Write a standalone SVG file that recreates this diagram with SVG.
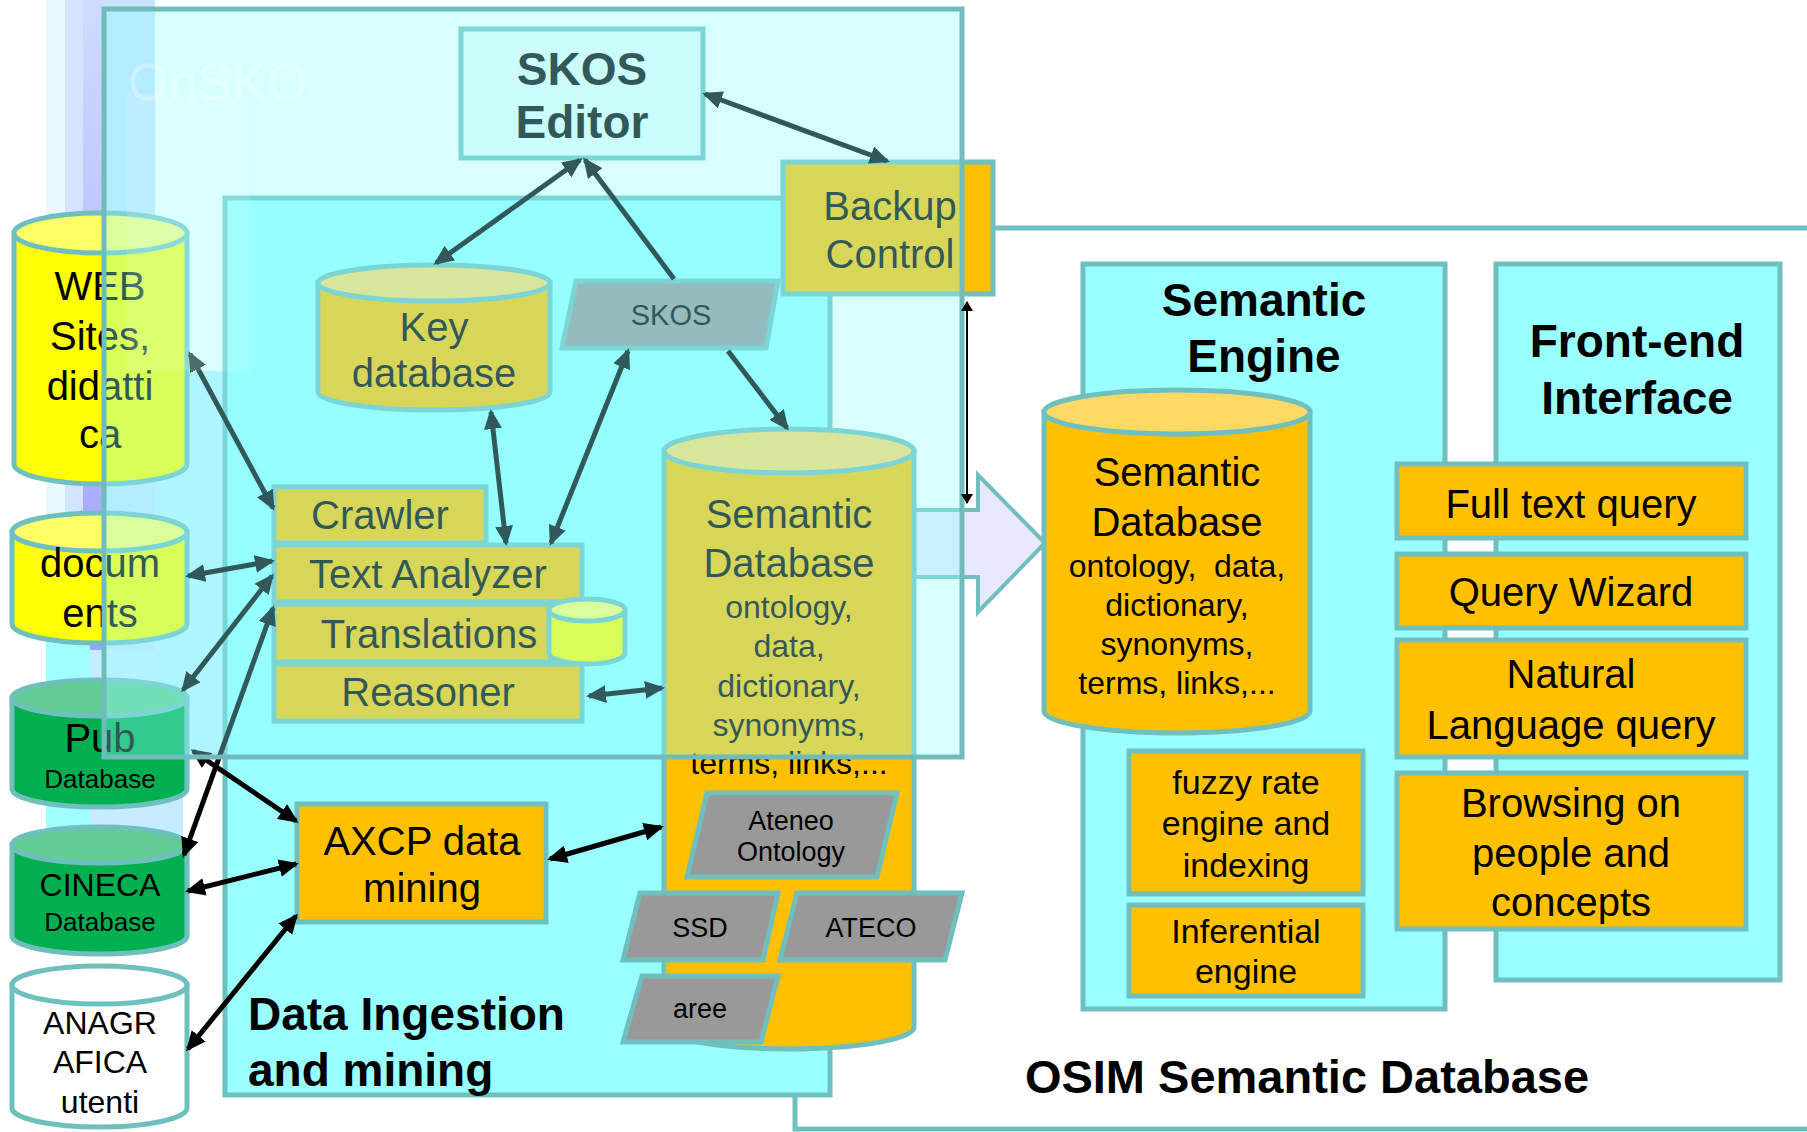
<svg xmlns="http://www.w3.org/2000/svg" width="1807" height="1132" viewBox="0 0 1807 1132">
<defs>
<style>
.t{font-family:"Liberation Sans",Arial,sans-serif;text-anchor:middle;fill:#000}
.b{font-weight:bold}
.bx{stroke:#70bfbf;stroke-width:5}
.cn{stroke:#000;stroke-width:5;fill:none;marker-start:url(#ah);marker-end:url(#ah)}
.cn1{stroke:#000;stroke-width:5;fill:none;marker-end:url(#ah)}
.f40{font-size:40px}
.f32{font-size:32px}
.f27{font-size:27px}
.f46{font-size:46px}
</style>
<marker id="ah" viewBox="0 0 20 18" refX="17" refY="9" markerWidth="20" markerHeight="18" markerUnits="userSpaceOnUse" orient="auto-start-reverse"><path d="M0,0 L20,9 L0,18 z" fill="#000"/></marker>
<marker id="ahs" viewBox="0 0 10 12" refX="9" refY="6" markerWidth="10" markerHeight="12" markerUnits="userSpaceOnUse" orient="auto-start-reverse"><path d="M0,0 L10,6 L0,12 z" fill="#000"/></marker>
<linearGradient id="lav" x1="0" y1="0" x2="0" y2="1"><stop offset="0" stop-color="#cddcff"/><stop offset="1" stop-color="#a0a0ff"/></linearGradient>
<clipPath id="clipOn"><rect x="104" y="20" width="208" height="100"/></clipPath>
</defs>
<rect width="1807" height="1132" fill="#fff"/>
<g id="background">
<rect x="46" y="0" width="19" height="560" fill="#e8f8ff"/>
<rect x="65" y="0" width="18" height="650" fill="#d2e4ff"/>
<rect x="83" y="0" width="21" height="650" fill="url(#lav)"/>
<rect x="104" y="0" width="51" height="650" fill="#c8e2ff"/>
<rect x="46" y="560" width="44" height="330" fill="#a0ffff"/>
<rect x="90" y="650" width="93" height="220" fill="#c8ecff"/>
<rect x="155" y="371" width="70" height="386" fill="#c0f0ff"/>
</g>
<g id="osim">
<rect x="795" y="228" width="1030" height="901" fill="#fff" class="bx" stroke-width="4"/>
</g>
<g id="bigarrow">
<polygon points="914,510 978,510 978,475 1045,543 978,612 978,577 914,577" fill="#e8e8ff" stroke="#70bfbf" stroke-width="4"/>
</g>
<g id="semantic-engine">
<rect x="1083" y="264" width="362" height="745" fill="#99ffff" class="bx"/>
<text class="t b f46" x="1264" y="316">Semantic</text>
<text class="t b f46" x="1264" y="372">Engine</text>
</g>
<g id="front-end">
<rect x="1496" y="264" width="284" height="716" fill="#99ffff" class="bx"/>
<text class="t b f46" x="1637" y="357">Front-end</text>
<text class="t b f46" x="1637" y="414">Interface</text>
</g>
<g id="osim-semdb">
<path d="M1044,412 L1044,711 A133,22 0 0 0 1310,711 L1310,412 Z" fill="#ffc000" class="bx"/>
<ellipse cx="1177" cy="412" rx="133" ry="22" fill="#ffd966" class="bx"/>
<text class="t f40" x="1177" y="486">Semantic</text>
<text class="t f40" x="1177" y="536">Database</text>
<text class="t f32" x="1177" y="577" xml:space="preserve">ontology,  data,</text>
<text class="t f32" x="1177" y="616">dictionary,</text>
<text class="t f32" x="1177" y="655">synonyms,</text>
<text class="t f32" x="1177" y="694">terms, links,...</text>
</g>
<g id="fuzzy">
<rect x="1129" y="751" width="234" height="143" fill="#ffc000" class="bx"/>
<text class="t" font-size="34" x="1246" y="794">fuzzy rate</text>
<text class="t" font-size="34" x="1246" y="835">engine and</text>
<text class="t" font-size="34" x="1246" y="877">indexing</text>
</g>
<g id="inferential">
<rect x="1129" y="905" width="234" height="91" fill="#ffc000" class="bx"/>
<text class="t" font-size="34" x="1246" y="943">Inferential</text>
<text class="t" font-size="34" x="1246" y="983">engine</text>
</g>
<g id="fulltext">
<rect x="1397" y="464" width="349" height="74" fill="#ffc000" class="bx"/>
<text class="t f40" x="1571" y="518">Full text query</text>
</g>
<g id="wizard">
<rect x="1397" y="554" width="349" height="74" fill="#ffc000" class="bx"/>
<text class="t f40" x="1571" y="606">Query Wizard</text>
</g>
<g id="natural">
<rect x="1397" y="640" width="349" height="117" fill="#ffc000" class="bx"/>
<text class="t f40" x="1571" y="688">Natural</text>
<text class="t f40" x="1571" y="739">Language query</text>
</g>
<g id="browsing">
<rect x="1397" y="773" width="349" height="156" fill="#ffc000" class="bx"/>
<text class="t f40" x="1571" y="817">Browsing on</text>
<text class="t f40" x="1571" y="867">people and</text>
<text class="t f40" x="1571" y="916">concepts</text>
</g>
<g id="osim-title">
<text class="t b" font-size="47" x="1307" y="1093">OSIM Semantic Database</text>
</g>
<g id="ingestion">
<rect x="225" y="198" width="605" height="897" fill="#99ffff" class="bx"/>
<text class="t b f46" x="248" y="1030" style="text-anchor:start">Data Ingestion</text>
<text class="t b f46" x="248" y="1086" style="text-anchor:start">and mining</text>
</g>
<g id="keydb">
<path d="M318,283 L318,392 A116,18 0 0 0 550,392 L550,283 Z" fill="#ffc000" class="bx"/>
<ellipse cx="434" cy="283" rx="116" ry="18" fill="#ffd966" class="bx"/>
<text class="t f40" x="434" y="341">Key</text>
<text class="t f40" x="434" y="387">database</text>
</g>
<g id="skos">
<polygon points="576,281 778,281 766,348 562,348" fill="#999" class="bx"/>
<text class="t" font-size="29" x="671" y="325">SKOS</text>
</g>
<g id="crawler">
<rect x="274" y="487" width="212" height="56" fill="#ffc000" class="bx"/>
<text class="t f40" x="380" y="529">Crawler</text>
</g>
<g id="textanalyzer">
<rect x="274" y="545" width="308" height="57" fill="#ffc000" class="bx"/>
<text class="t f40" x="428" y="588">Text Analyzer</text>
</g>
<g id="translations">
<rect x="274" y="604" width="277" height="58" fill="#ffc000" class="bx"/>
<text class="t f40" x="429" y="648">Translations</text>
</g>
<g id="smallcyl">
<path d="M549,610 L549,653 A38,11 0 0 0 625,653 L625,610 Z" fill="#ffff00" class="bx"/>
<ellipse cx="587" cy="610" rx="38" ry="11" fill="#ffff66" class="bx"/>
</g>
<g id="reasoner">
<rect x="274" y="664" width="308" height="57" fill="#ffc000" class="bx"/>
<text class="t f40" x="428" y="706">Reasoner</text>
</g>
<g id="ing-semdb">
<path d="M664,451 L664,1027 A125,22 0 0 0 914,1027 L914,451 Z" fill="#ffc000" class="bx"/>
<ellipse cx="789" cy="451" rx="125" ry="22" fill="#ffd966" class="bx"/>
<text class="t f40" x="789" y="528">Semantic</text>
<text class="t f40" x="789" y="577">Database</text>
<text class="t f32" x="789" y="618">ontology,</text>
<text class="t f32" x="789" y="657">data,</text>
<text class="t f32" x="789" y="697">dictionary,</text>
<text class="t f32" x="789" y="736">synonyms,</text>
<text class="t f32" x="789" y="774">terms, links,...</text>
</g>
<g id="ateneo">
<polygon points="707,793 897,793 877,877 687,877" fill="#999" class="bx"/>
<text class="t f27" x="791" y="830">Ateneo</text>
<text class="t f27" x="791" y="861">Ontology</text>
</g>
<g id="ssd">
<polygon points="640,893 778,893 763,960 623,960" fill="#999" class="bx"/>
<text class="t f27" x="700" y="937">SSD</text>
</g>
<g id="ateco">
<polygon points="797,893 962,893 945,960 780,960" fill="#999" class="bx"/>
<text class="t f27" x="871" y="937">ATECO</text>
</g>
<g id="aree">
<polygon points="642,976 778,976 761,1042 623,1042" fill="#999" class="bx"/>
<text class="t f27" x="700" y="1018">aree</text>
</g>
<g id="axcp">
<rect x="297" y="804" width="249" height="118" fill="#ffc000" class="bx"/>
<text class="t f40" x="422" y="855">AXCP data</text>
<text class="t f40" x="422" y="902">mining</text>
</g>
<g id="skos-editor">
<rect x="461" y="29" width="242" height="129" fill="#ecfcfc" class="bx"/>
<text class="t b f46" x="582" y="85">SKOS</text>
<text class="t b f46" x="582" y="138">Editor</text>
</g>
<g id="backup">
<rect x="783" y="162" width="210" height="132" fill="#ffc000" class="bx"/>
<text class="t f40" x="890" y="220">Backup</text>
<text class="t f40" x="890" y="268">Control</text>
</g>
<g id="web">
<path d="M14,233 L14,464 A86.5,20 0 0 0 187,464 L187,233 Z" fill="#ffff00" class="bx"/>
<ellipse cx="100.5" cy="233" rx="86.5" ry="20" fill="#ffff66" class="bx"/>
<text class="t f40" x="100" y="300">WEB</text>
<text class="t f40" x="100" y="350">Sites,</text>
<text class="t f40" x="100" y="400">didatti</text>
<text class="t f40" x="100" y="448">ca</text>
</g>
<g id="documents">
<path d="M12,532 L12,624 A87.5,19 0 0 0 187,624 L187,532 Z" fill="#ffff00" class="bx"/>
<ellipse cx="99.5" cy="532" rx="87.5" ry="19" fill="#ffff66" class="bx"/>
<text class="t f40" x="100" y="577">docum</text>
<text class="t f40" x="100" y="627">ents</text>
</g>
<g id="pub">
<path d="M12,698 L12,789 A87.5,18 0 0 0 187,789 L187,698 Z" fill="#00b050" class="bx"/>
<ellipse cx="99.5" cy="698" rx="87.5" ry="18" fill="#62cc92" class="bx"/>
<text class="t f40" x="100" y="752">Pub</text>
<text class="t" font-size="26" x="100" y="788">Database</text>
</g>
<g id="cineca">
<path d="M12,845 L12,936 A87.5,18 0 0 0 187,936 L187,845 Z" fill="#00b050" class="bx"/>
<ellipse cx="99.5" cy="845" rx="87.5" ry="18" fill="#62cc92" class="bx"/>
<text class="t f32" x="100" y="896">CINECA</text>
<text class="t" font-size="26" x="100" y="931">Database</text>
</g>
<g id="anagrafica">
<path d="M12,985 L12,1108 A87.5,19 0 0 0 187,1108 L187,985 Z" fill="#fff" class="bx"/>
<ellipse cx="99.5" cy="985" rx="87.5" ry="19" fill="#fff" class="bx"/>
<text class="t f32" x="100" y="1034">ANAGR</text>
<text class="t f32" x="100" y="1073">AFICA</text>
<text class="t f32" x="100" y="1113">utenti</text>
</g>
<g id="connectors">
<line class="cn" x1="705" y1="94" x2="887" y2="161"/>
<line class="cn" x1="580" y1="160" x2="436" y2="263"/>
<line class="cn1" x1="674" y1="279" x2="585" y2="160"/>
<line class="cn1" x1="728" y1="351" x2="787" y2="428"/>
<line class="cn" x1="506" y1="543" x2="491" y2="412"/>
<line class="cn" x1="551" y1="543" x2="628" y2="351"/>
<line class="cn" x1="190" y1="354" x2="273" y2="508"/>
<line class="cn" x1="188" y1="576" x2="272" y2="561"/>
<line class="cn" x1="183" y1="690" x2="272" y2="576"/>
<line class="cn" x1="184" y1="855" x2="273" y2="608"/>
<line class="cn" x1="193" y1="751" x2="296" y2="821"/>
<line class="cn" x1="188" y1="891" x2="296" y2="864"/>
<line class="cn" x1="188" y1="1049" x2="296" y2="916"/>
<line class="cn" x1="550" y1="859" x2="661" y2="827"/>
<line class="cn" x1="589" y1="696" x2="662" y2="688"/>
</g>
<g id="frame">
<rect x="104" y="9" width="858" height="748" fill="rgb(144,255,255)" fill-opacity="0.35" stroke="#70bcbc" stroke-width="5"/>
<rect x="127" y="93" width="123" height="278" fill="#fff" fill-opacity="0.12"/>
<text x="128" y="100" clip-path="url(#clipOn)" font-family="Liberation Sans,Arial,sans-serif" font-size="52" fill="#fff" fill-opacity="0.3">OnSKOS</text>
</g>
<g id="backup-link">
<line x1="967" y1="302" x2="967" y2="503" stroke="#000" stroke-width="2" marker-start="url(#ahs)" marker-end="url(#ahs)"/>
</g>
</svg>
